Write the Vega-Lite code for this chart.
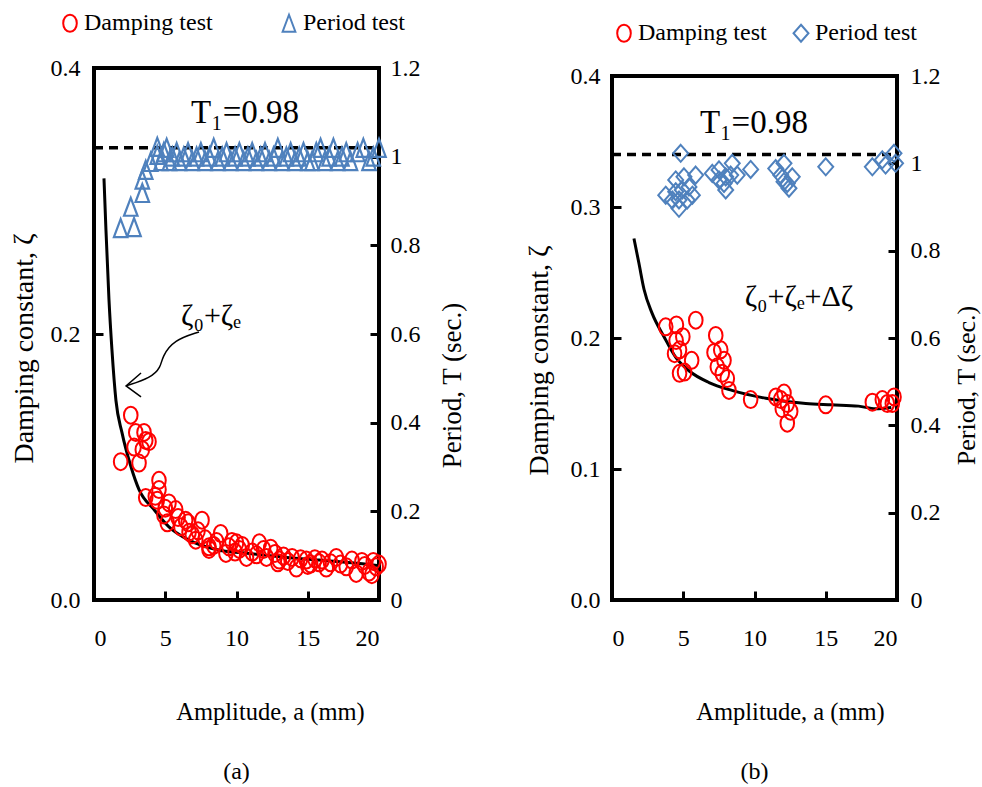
{
  "$schema": "https://vega.github.io/schema/vega-lite/v6.json",
  "padding": {"left": 8, "top": 9, "right": 0, "bottom": 0},
  "config": {
    "font": "Times New Roman, Liberation Serif, serif",
    "view": {"stroke": "black", "strokeWidth": 4},
    "axis": {"grid": false, "domain": false, "labelFont": "Times New Roman, Liberation Serif, serif", "labelFontSize": 24, "labelColor": "black", "titleFont": "Times New Roman, Liberation Serif, serif", "titleFontSize": 27, "titleFontWeight": "normal", "titleColor": "black", "tickColor": "black", "tickWidth": 3, "tickSize": -9},
    "legend": {"labelFont": "Times New Roman, Liberation Serif, serif", "labelFontSize": 24, "labelColor": "black", "symbolStrokeWidth": 2, "symbolSize": 289, "labelOffset": 2},
    "title": {"font": "Times New Roman, Liberation Serif, serif"},
    "text": {"font": "Times New Roman, Liberation Serif, serif", "color": "black"}
  },
  "datasets": {
    "curveA": [
      {"a": 0.70, "z": 0.317}, {"a": 0.84, "z": 0.278}, {"a": 1.05, "z": 0.226}, {"a": 1.26, "z": 0.188}, {"a": 1.54, "z": 0.150}, {"a": 1.96, "z": 0.126}, {"a": 2.60, "z": 0.100}, {"a": 3.16, "z": 0.083}, {"a": 4.21, "z": 0.068}, {"a": 5.26, "z": 0.055}, {"a": 6.67, "z": 0.045}, {"a": 8.56, "z": 0.038}, {"a": 10.9, "z": 0.035}, {"a": 13.5, "z": 0.032}, {"a": 15.8, "z": 0.030}, {"a": 18.1, "z": 0.028}, {"a": 19.86, "z": 0.026}
    ],
    "arrowA": [
      {"i": 0, "a": 7.37, "z": 0.2015}, {"i": 1, "a": 5.61, "z": 0.1955}, {"i": 2, "a": 4.77, "z": 0.1827}, {"i": 3, "a": 4.70, "z": 0.1752}, {"i": 4, "a": 4.00, "z": 0.167}, {"i": 5, "a": 2.25, "z": 0.161}
    ],
    "headA": [
      {"i": 0, "a": 3.30, "z": 0.1707}, {"i": 1, "a": 2.25, "z": 0.161}, {"i": 2, "a": 3.30, "z": 0.1527}
    ],
    "dampA": [
      {"a": 1.87, "z": 0.104}, {"a": 2.58, "z": 0.139}, {"a": 2.81, "z": 0.115}, {"a": 2.93, "z": 0.126}, {"a": 3.16, "z": 0.103}, {"a": 3.39, "z": 0.113}, {"a": 3.51, "z": 0.126}, {"a": 3.63, "z": 0.120}, {"a": 3.86, "z": 0.119}, {"a": 3.63, "z": 0.077}, {"a": 4.44, "z": 0.075}, {"a": 4.56, "z": 0.090}, {"a": 4.56, "z": 0.083}, {"a": 4.91, "z": 0.064}, {"a": 5.14, "z": 0.058}, {"a": 5.26, "z": 0.073}, {"a": 5.73, "z": 0.068}, {"a": 6.43, "z": 0.060}, {"a": 6.67, "z": 0.051}, {"a": 7.14, "z": 0.045}, {"a": 7.58, "z": 0.060}, {"a": 8.07, "z": 0.040}, {"a": 8.07, "z": 0.038}, {"a": 8.89, "z": 0.050}, {"a": 9.26, "z": 0.035}, {"a": 9.47, "z": 0.040}, {"a": 9.68, "z": 0.044}, {"a": 10.2, "z": 0.038}, {"a": 10.7, "z": 0.032}, {"a": 11.1, "z": 0.036}, {"a": 11.6, "z": 0.043}, {"a": 12.1, "z": 0.032}, {"a": 12.4, "z": 0.039}, {"a": 13.0, "z": 0.030}, {"a": 13.9, "z": 0.032}, {"a": 14.2, "z": 0.024}, {"a": 14.9, "z": 0.030}, {"a": 15.8, "z": 0.028}, {"a": 16.3, "z": 0.024}, {"a": 17.0, "z": 0.032}, {"a": 17.7, "z": 0.025}, {"a": 18.4, "z": 0.020}, {"a": 18.8, "z": 0.029}, {"a": 19.3, "z": 0.021}, {"a": 19.8, "z": 0.025},
      {"a": 5.9, "z": 0.062}, {"a": 6.1, "z": 0.055}, {"a": 6.9, "z": 0.049}, {"a": 7.3, "z": 0.052}, {"a": 7.8, "z": 0.046}, {"a": 8.4, "z": 0.041}, {"a": 8.6, "z": 0.044}, {"a": 9.9, "z": 0.036}, {"a": 10.4, "z": 0.041}, {"a": 11.4, "z": 0.034}, {"a": 11.9, "z": 0.038}, {"a": 12.7, "z": 0.035}, {"a": 13.3, "z": 0.033}, {"a": 13.6, "z": 0.029}, {"a": 14.5, "z": 0.031}, {"a": 15.2, "z": 0.027}, {"a": 15.5, "z": 0.031}, {"a": 16.0, "z": 0.030}, {"a": 16.6, "z": 0.028}, {"a": 17.3, "z": 0.027}, {"a": 18.1, "z": 0.030}, {"a": 19.0, "z": 0.026}, {"a": 19.6, "z": 0.029}, {"a": 20.0, "z": 0.027}, {"a": 5.0, "z": 0.069}, {"a": 4.3, "z": 0.078}, {"a": 6.6, "z": 0.058}, {"a": 10.0, "z": 0.043}, {"a": 12.9, "z": 0.028}, {"a": 15.0, "z": 0.026}, {"a": 19.5, "z": 0.019}
    ],
    "perA": [
      {"a": 1.87, "T": 0.839}, {"a": 2.81, "T": 0.841}, {"a": 2.58, "T": 0.887}, {"a": 3.39, "T": 0.918}, {"a": 3.39, "T": 0.948}, {"a": 3.63, "T": 0.970}, {"a": 3.98, "T": 0.988}, {"a": 4.44, "T": 1.004}, {"a": 4.44, "T": 1.022},
      {"a": 4.7, "T": 0.99}, {"a": 4.9, "T": 1.01}, {"a": 5.1, "T": 1.02}, {"a": 5.3, "T": 0.99}, {"a": 5.5, "T": 1.0}, {"a": 5.8, "T": 1.01}, {"a": 6.0, "T": 0.99}, {"a": 6.3, "T": 1.0}, {"a": 6.6, "T": 1.01}, {"a": 6.9, "T": 0.99}, {"a": 7.2, "T": 1.0}, {"a": 7.5, "T": 1.01}, {"a": 7.8, "T": 0.99}, {"a": 8.1, "T": 1.0}, {"a": 8.4, "T": 1.02}, {"a": 8.7, "T": 0.99}, {"a": 9.0, "T": 1.0}, {"a": 9.3, "T": 1.01}, {"a": 9.6, "T": 0.99}, {"a": 9.9, "T": 1.0}, {"a": 10.2, "T": 1.01}, {"a": 10.5, "T": 0.99}, {"a": 10.8, "T": 1.0}, {"a": 11.1, "T": 1.01}, {"a": 11.4, "T": 0.99}, {"a": 11.7, "T": 1.0}, {"a": 12.0, "T": 1.01}, {"a": 12.3, "T": 0.99}, {"a": 12.6, "T": 1.0}, {"a": 12.9, "T": 1.02}, {"a": 13.2, "T": 0.99}, {"a": 13.5, "T": 1.0}, {"a": 13.8, "T": 1.01}, {"a": 14.1, "T": 0.99}, {"a": 14.4, "T": 1.0}, {"a": 14.7, "T": 1.01}, {"a": 15.0, "T": 0.99}, {"a": 15.3, "T": 0.99}, {"a": 15.6, "T": 1.01}, {"a": 15.9, "T": 1.02}, {"a": 16.2, "T": 0.99}, {"a": 16.5, "T": 1.0}, {"a": 16.8, "T": 1.02}, {"a": 17.1, "T": 0.99}, {"a": 17.4, "T": 1.0}, {"a": 17.7, "T": 1.01}, {"a": 18.0, "T": 0.99}, {"a": 18.5, "T": 1.01}, {"a": 18.9, "T": 1.02}, {"a": 19.3, "T": 0.99}, {"a": 19.6, "T": 1.0}, {"a": 20.0, "T": 1.02}
    ],
    "dash": [{"a": 0, "T": 1.02}, {"a": 20, "T": 1.02}],
    "curveB": [
      {"a": 1.54, "z": 0.276}, {"a": 1.89, "z": 0.257}, {"a": 2.25, "z": 0.237}, {"a": 2.81, "z": 0.219}, {"a": 3.65, "z": 0.201}, {"a": 4.49, "z": 0.185}, {"a": 5.40, "z": 0.175}, {"a": 6.81, "z": 0.166}, {"a": 8.42, "z": 0.160}, {"a": 10.8, "z": 0.154}, {"a": 13.6, "z": 0.150}, {"a": 15.4, "z": 0.149}, {"a": 17.3, "z": 0.148}, {"a": 18.5, "z": 0.146}, {"a": 19.6, "z": 0.147}
    ],
    "dampB": [
      {"a": 3.77, "z": 0.2085}, {"a": 4.52, "z": 0.210}, {"a": 5.88, "z": 0.2136}, {"a": 4.50, "z": 0.198}, {"a": 4.97, "z": 0.201}, {"a": 4.74, "z": 0.191}, {"a": 4.39, "z": 0.188}, {"a": 5.59, "z": 0.183}, {"a": 4.74, "z": 0.173}, {"a": 5.09, "z": 0.174}, {"a": 7.28, "z": 0.202}, {"a": 7.16, "z": 0.189}, {"a": 7.63, "z": 0.191}, {"a": 7.86, "z": 0.183}, {"a": 7.39, "z": 0.178}, {"a": 7.74, "z": 0.173}, {"a": 8.09, "z": 0.169}, {"a": 8.21, "z": 0.160}, {"a": 9.73, "z": 0.153}, {"a": 11.5, "z": 0.155}, {"a": 12.07, "z": 0.158}, {"a": 11.84, "z": 0.153}, {"a": 12.30, "z": 0.150}, {"a": 11.95, "z": 0.146}, {"a": 12.54, "z": 0.144}, {"a": 12.30, "z": 0.135}, {"a": 15.0, "z": 0.149}, {"a": 18.27, "z": 0.151}, {"a": 18.97, "z": 0.153}, {"a": 19.32, "z": 0.150}, {"a": 19.79, "z": 0.155}, {"a": 19.67, "z": 0.150}
    ],
    "perB": [
      {"a": 4.82, "T": 1.023}, {"a": 3.77, "T": 0.927}, {"a": 4.70, "T": 0.897}, {"a": 4.47, "T": 0.962}, {"a": 5.05, "T": 0.969}, {"a": 5.40, "T": 0.946}, {"a": 4.93, "T": 0.939}, {"a": 4.47, "T": 0.935}, {"a": 5.28, "T": 0.916}, {"a": 5.87, "T": 0.973}, {"a": 5.64, "T": 0.927}, {"a": 4.70, "T": 0.916}, {"a": 4.23, "T": 0.916},
      {"a": 7.04, "T": 0.977}, {"a": 7.51, "T": 0.985}, {"a": 7.98, "T": 0.969}, {"a": 7.98, "T": 0.939}, {"a": 8.44, "T": 1.0}, {"a": 8.33, "T": 0.973}, {"a": 8.79, "T": 0.973}, {"a": 9.73, "T": 0.986}, {"a": 7.51, "T": 0.962}, {"a": 7.86, "T": 0.954},
      {"a": 11.49, "T": 0.988}, {"a": 12.07, "T": 1.0}, {"a": 11.84, "T": 0.973}, {"a": 12.30, "T": 0.954}, {"a": 12.42, "T": 0.943}, {"a": 12.65, "T": 0.969}, {"a": 12.07, "T": 0.958},
      {"a": 15.0, "T": 0.992}, {"a": 18.27, "T": 0.992}, {"a": 18.97, "T": 1.008}, {"a": 19.2, "T": 0.996}, {"a": 19.79, "T": 1.023}, {"a": 19.9, "T": 1.0}
    ]
  },
  "hconcat": [
    {
      "width": 285,
      "height": 532,
      "title": {"text": "(a)", "orient": "bottom", "offset": 36, "fontSize": 24, "fontWeight": "normal", "color": "black"},
      "encoding": {
        "x": {"field": "a", "type": "quantitative", "scale": {"domain": [0, 20], "nice": false}, "axis": {"values": [0, 5, 10, 15, 20], "title": "Amplitude, a (mm)", "titleFontSize": 24.5, "titleX": 176, "titleY": 112, "titleBaseline": "middle", "labelPadding": 35}}
      },
      "layer": [
        {
          "encoding": {
            "y": {"field": "z", "type": "quantitative", "scale": {"domain": [0, 0.4], "nice": false}, "axis": {"orient": "left", "values": [0, 0.2, 0.4], "format": ".1f", "title": "Damping constant, ζ", "titleFontSize": 28, "titleX": -70, "titleY": 280, "titleBaseline": "middle", "titleAlign": "center", "labelPadding": 23}}
          },
          "layer": [
            {"data": {"name": "curveA"}, "mark": {"type": "line", "color": "black", "strokeWidth": 3, "interpolate": "monotone"}},
            {"data": {"name": "arrowA"}, "mark": {"type": "line", "color": "black", "strokeWidth": 1.5, "interpolate": "basis"}, "encoding": {"order": {"field": "i"}}},
            {"data": {"name": "headA"}, "mark": {"type": "line", "color": "black", "strokeWidth": 1.5}, "encoding": {"order": {"field": "i"}}},
            {"data": {"name": "dampA"}, "mark": {"type": "point", "filled": false, "strokeWidth": 2, "size": 289, "opacity": 1},
              "encoding": {
                "shape": {"datum": "Damping test", "scale": {"domain": ["Damping test", "Period test"], "range": ["M-0.8,0A0.8,1 0 1,0 0.8,0A0.8,1 0 1,0 -0.8,0Z", "M0,-1L0.75,1L-0.75,1Z"]}, "legend": {"orient": "none", "legendX": -36, "legendY": -57, "direction": "horizontal", "title": null, "columnPadding": 64}},
                "stroke": {"datum": "Damping test", "scale": {"domain": ["Damping test", "Period test"], "range": ["#ff0000", "#4f81bd"]}, "legend": {"orient": "none", "legendX": -36, "legendY": -57, "direction": "horizontal", "title": null, "columnPadding": 64}}
              }},
            {"data": {"values": [{"a": 8.21, "z": 0.2136, "t": "ζ₀+ζₑ"}]}, "mark": {"type": "text", "fontSize": 30}, "encoding": {"text": {"field": "t"}}}
          ]
        },
        {
          "encoding": {
            "y": {"field": "T", "type": "quantitative", "scale": {"domain": [0, 1.2], "nice": false}, "axis": {"orient": "right", "values": [0, 0.2, 0.4, 0.6, 0.8, 1, 1.2], "format": "~g", "title": "Period, T (sec.)", "titleX": 73, "titleY": 317, "titleAngle": -90, "titleBaseline": "middle", "titleAlign": "center", "labelPadding": 20}}
          },
          "layer": [
            {"data": {"name": "dash"}, "mark": {"type": "line", "color": "black", "strokeWidth": 3.5, "strokeDash": [9, 6]}},
            {"data": {"name": "perA"}, "mark": {"type": "point", "filled": false, "strokeWidth": 2.2, "size": 324, "opacity": 1},
              "encoding": {
                "shape": {"datum": "Period test"},
                "stroke": {"datum": "Period test"}
              }},
            {"data": {"values": [{"a": 10.6, "T": 1.099, "t": "T₁=0.98"}]}, "mark": {"type": "text", "fontSize": 33}, "encoding": {"text": {"field": "t"}}}
          ]
        }
      ],
      "resolve": {"scale": {"y": "independent"}}
    },
    {
      "vconcat": [
        {"width": 285, "height": 8, "data": {"values": []}, "mark": "point", "view": {"stroke": null}},
        {
          "width": 285,
          "height": 524,
          "title": {"text": "(b)", "orient": "bottom", "offset": 36, "fontSize": 24, "fontWeight": "normal", "color": "black"},
          "encoding": {
            "x": {"field": "a", "type": "quantitative", "scale": {"domain": [0, 20], "nice": false}, "axis": {"values": [0, 5, 10, 15, 20], "title": "Amplitude, a (mm)", "titleFontSize": 24.5, "titleX": 178, "titleY": 112, "titleBaseline": "middle", "labelPadding": 35}}
          },
          "layer": [
            {
              "encoding": {
                "y": {"field": "z", "type": "quantitative", "scale": {"domain": [0, 0.4], "nice": false}, "axis": {"orient": "left", "values": [0, 0.1, 0.2, 0.3, 0.4], "format": ".1f", "title": "Damping constant, ζ", "titleFontSize": 28, "titleX": -73, "titleY": 284, "titleBaseline": "middle", "titleAlign": "center", "labelPadding": 21}}
              },
              "layer": [
                {"data": {"name": "curveB"}, "mark": {"type": "line", "color": "black", "strokeWidth": 3, "interpolate": "monotone"}},
                {"data": {"name": "dampB"}, "mark": {"type": "point", "filled": false, "strokeWidth": 2, "size": 289, "opacity": 1},
                  "encoding": {
                    "shape": {"datum": "Damping test", "scale": {"domain": ["Damping test", "Period test"], "range": ["M-0.8,0A0.8,1 0 1,0 0.8,0A0.8,1 0 1,0 -0.8,0Z", "M0,-1L0.88,0L0,1L-0.88,0Z"]}, "legend": {"orient": "none", "legendX": 0, "legendY": -47, "direction": "horizontal", "title": null, "columnPadding": 22}},
                    "stroke": {"datum": "Damping test", "scale": {"domain": ["Damping test", "Period test"], "range": ["#ff0000", "#4f81bd"]}, "legend": {"orient": "none", "legendX": 0, "legendY": -47, "direction": "horizontal", "title": null, "columnPadding": 22}}
                  }},
                {"data": {"values": [{"a": 13.12, "z": 0.231, "t": "ζ₀+ζₑ+Δζ"}]}, "mark": {"type": "text", "fontSize": 30}, "encoding": {"text": {"field": "t"}}}
              ]
            },
            {
              "encoding": {
                "y": {"field": "T", "type": "quantitative", "scale": {"domain": [0, 1.2], "nice": false}, "axis": {"orient": "right", "values": [0, 0.2, 0.4, 0.6, 0.8, 1, 1.2], "format": "~g", "title": "Period, T (sec.)", "titleFontSize": 26, "titleX": 69, "titleY": 309, "titleAngle": -90, "titleBaseline": "middle", "titleAlign": "center", "labelPadding": 22}}
              },
              "layer": [
                {"data": {"name": "dash"}, "mark": {"type": "line", "color": "black", "strokeWidth": 3.5, "strokeDash": [9, 6]}},
                {"data": {"name": "perB"}, "mark": {"type": "point", "filled": false, "strokeWidth": 2, "size": 289, "opacity": 1},
                  "encoding": {
                    "shape": {"datum": "Period test"},
                    "stroke": {"datum": "Period test"}
                  }},
                {"data": {"values": [{"a": 9.96, "T": 1.092, "t": "T₁=0.98"}]}, "mark": {"type": "text", "fontSize": 33}, "encoding": {"text": {"field": "t"}}}
              ]
            }
          ],
          "resolve": {"scale": {"y": "independent"}}
        }
      ],
      "spacing": 0,
      "bounds": "flush"
    }
  ],
  "spacing": 233,
  "bounds": "flush",
  "resolve": {"scale": {"shape": "independent", "stroke": "independent"}, "legend": {"shape": "independent", "stroke": "independent"}}
}
